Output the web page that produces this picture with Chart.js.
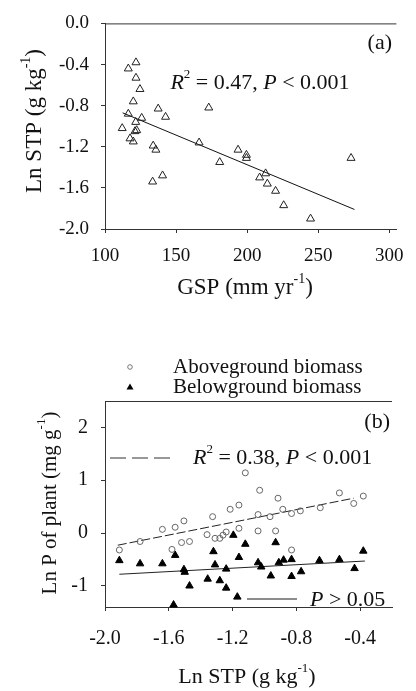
<!DOCTYPE html>
<html>
<head>
<meta charset="utf-8">
<script src="https://cdn.jsdelivr.net/npm/chart.js@4.4.1/dist/chart.umd.min.js"></script>
<style>
html, body { margin: 0; padding: 0; background: #fff; }
#wrap { position: relative; width: 416px; height: 691px; }
canvas { position: absolute; left: 0; }
#chartA { top: 0; }
#chartB { top: 340px; }
</style>
</head>
<body>
<div id="wrap">
  <canvas id="chartA" width="416" height="310"></canvas>
  <canvas id="chartB" width="416" height="351"></canvas>
</div>
<script>
// (a) growing season precipitation vs soil total P
const gsp = [112.1, 116.4, 116.4, 121.8, 121.8, 124.6, 119.9, 121.6, 122.3, 121.1, 117.6, 119.9, 125.8, 137.4, 142.6, 133.9,
             135.8, 133.5, 140.5, 166.2, 173.0, 180.7, 193.6, 199.5, 199.5, 208.8, 213.0, 214.2, 220.0, 225.7, 244.6, 273.1];
const lnStpA = [-1.02, -0.88, -0.44, -0.38, -0.53, -0.64, -0.76, -0.96, -1.04, -1.05, -1.12, -1.15, -0.92, -0.83, -0.91, -1.19,
                -1.23, -1.54, -1.48, -1.16, -0.82, -1.35, -1.23, -1.28, -1.31, -1.50, -1.46, -1.56, -1.63, -1.77, -1.90, -1.31];
const fitAx = [112.4, 275.5];
const fitAy = [-0.87, -1.81];
const xTicksA = [100, 150, 200, 250, 300];
const yTicksA = [0, -0.4, -0.8, -1.2, -1.6, -2.0];

// (b) soil total P vs plant P
const stpAbove = [-1.91, -1.78, -1.64, -1.56, -1.505, -1.58, -1.52, -1.47, -1.325, -1.36, -1.31, -1.28, -1.26, -1.24, -1.215, -1.16,
                  -1.16, -1.12, -1.03, -0.915, -1.04, -0.965, -0.885, -0.83, -0.775, -0.65, -0.53, -0.44, -0.38, -1.04, -0.93, -0.83];
const pAbove = [-0.32, -0.16, 0.07, 0.11, 0.23, -0.31, -0.18, -0.16, 0.31, -0.03, -0.10, -0.10, -0.04, 0.02, 0.45, 0.53,
                0.09, 1.14, 0.81, 0.66, 0.35, 0.31, 0.45, 0.37, 0.42, 0.48, 0.76, 0.56, 0.70, 0.04, 0.04, -0.32];
const stpBelow = [-1.91, -1.78, -1.64, -1.56, -1.505, -1.50, -1.47, -1.57, -1.32, -1.31, -1.356, -1.28, -1.24, -1.24, -1.17, -1.195,
                  -1.12, -1.16, -0.93, -1.04, -1.02, -0.91, -0.88, -0.83, -0.96, -0.83, -0.77, -0.655, -0.53, -0.435, -0.38];
const pBelow = [-0.52, -0.58, -0.58, -0.42, -0.69, -0.74, -1.00, -1.36, -0.35, -0.60, -0.87, -0.90, -0.68, -1.04, -1.21, -0.04,
                -0.21, -0.46, -0.18, -0.56, -0.64, -0.56, -0.51, -0.50, -0.81, -0.82, -0.73, -0.52, -0.50, -0.67, -0.34];
const fitAboveX = [-1.92, -0.44];
const fitAboveY = [-0.23, 0.66];
const fitBelowX = [-1.91, -0.37];
const fitBelowY = [-0.78, -0.53];
const xTicksB = [-2.0, -1.6, -1.2, -0.8, -0.4];
const yTicksB = [2, 1, 0, -1];

const FONT = '"Liberation Serif", "Times New Roman", serif';
const INK = '#111';
const AXIS = '#333';

const pts = (xs, ys) => xs.map((x, i) => ({ x: x, y: ys[i] }));

// text with italic / superscript runs
function drawRich(ctx, parts, x, y, size, align) {
  const fontFor = s => (s === 'i' ? 'italic ' : '') + (s === 'sup' ? Math.round(size * 0.6) : size) + 'px ' + FONT;
  let total = 0;
  parts.forEach(([t, s]) => { ctx.font = fontFor(s); total += ctx.measureText(t).width; });
  let cx = align === 'center' ? x - total / 2 : (align === 'right' ? x - total : x);
  ctx.textAlign = 'left';
  ctx.textBaseline = 'middle';
  ctx.fillStyle = INK;
  parts.forEach(([t, s]) => {
    ctx.font = fontFor(s);
    ctx.fillText(t, cx, s === 'sup' ? y - size * 0.38 : y);
    cx += ctx.measureText(t).width;
  });
}

function drawVertical(ctx, parts, x, y, size) {
  ctx.save();
  ctx.translate(x, y);
  ctx.rotate(-Math.PI / 2);
  drawRich(ctx, parts, 0, 0, size, 'center');
  ctx.restore();
}

function topBorder(chart) {
  const ctx = chart.ctx, a = chart.chartArea;
  ctx.save();
  ctx.strokeStyle = AXIS;
  ctx.lineWidth = 1;
  ctx.beginPath();
  ctx.moveTo(a.left, a.top + 0.5);
  ctx.lineTo(a.right, a.top + 0.5);
  ctx.stroke();
  ctx.restore();
}

function scaleOpts(min, max, tickValues, fmt, size, pad, boxSize, horizontal) {
  return {
    type: 'linear',
    min: min,
    max: max,
    afterBuildTicks: s => { s.ticks = tickValues.map(v => ({ value: v })); },
    afterFit: s => { if (horizontal) s.height = boxSize; else s.width = boxSize; },
    grid: { drawOnChartArea: false, drawTicks: true, tickLength: 4, color: AXIS },
    border: { display: true, color: AXIS, width: 1 },
    ticks: {
      padding: pad,
      color: INK,
      maxRotation: 0,
      autoSkip: false,
      font: { family: FONT, size: size },
      callback: v => fmt(v)
    }
  };
}

const baseOpts = {
  responsive: false,
  animation: false,
  events: [],
  plugins: { legend: { display: false }, tooltip: { enabled: false } }
};

// panel (a)
new Chart(document.getElementById('chartA'), {
  type: 'scatter',
  data: {
    datasets: [
      {
        data: pts(gsp, lnStpA),
        pointStyle: 'triangle',
        pointRadius: 4.6,
        borderColor: '#222',
        borderWidth: 1,
        backgroundColor: 'rgba(255,255,255,0)',
        clip: false
      },
      {
        data: pts(fitAx, fitAy),
        showLine: true,
        pointRadius: 0,
        borderColor: '#111',
        borderWidth: 1
      }
    ]
  },
  options: Object.assign({}, baseOpts, {
    layout: { padding: { top: 21, right: 19, left: 0, bottom: 0 } },
    scales: {
      x: scaleOpts(100, 305, xTicksA, v => String(v), 19, 12, 81, true),
      y: scaleOpts(-2, 0, yTicksA, v => v.toFixed(1), 19, 12, 105, false)
    }
  }),
  plugins: [{
    id: 'decorA',
    afterDraw(chart) {
      const ctx = chart.ctx;
      topBorder(chart);
      drawRich(ctx, [['(a)', '']], 392, 43, 22, 'right');
      drawRich(ctx, [['R', 'i'], ['2', 'sup'], [' = 0.47, ', ''], ['P', 'i'], [' < 0.001', '']], 260, 83, 22, 'center');
      drawRich(ctx, [['GSP (mm yr', ''], ['-1', 'sup'], [')', '']], 245, 288, 23, 'center');
      drawVertical(ctx, [['Ln STP (g kg', ''], ['-1', 'sup'], [')', '']], 35, 121, 23);
    }
  }]
});

// panel (b)
new Chart(document.getElementById('chartB'), {
  type: 'scatter',
  data: {
    datasets: [
      {
        data: pts(stpAbove, pAbove),
        pointStyle: 'circle',
        pointRadius: 3,
        borderColor: '#666',
        borderWidth: 1,
        backgroundColor: 'rgba(255,255,255,0)',
        clip: false
      },
      {
        data: pts(stpBelow, pBelow),
        pointStyle: 'triangle',
        pointRadius: 4.3,
        borderColor: '#000',
        borderWidth: 1,
        backgroundColor: '#000',
        clip: false
      },
      {
        data: pts(fitAboveX, fitAboveY),
        showLine: true,
        pointRadius: 0,
        borderColor: '#222',
        borderWidth: 1,
        borderDash: [9, 3]
      },
      {
        data: pts(fitBelowX, fitBelowY),
        showLine: true,
        pointRadius: 0,
        borderColor: '#222',
        borderWidth: 1
      }
    ]
  },
  options: Object.assign({}, baseOpts, {
    layout: { padding: { top: 61, right: 24, left: 0, bottom: 0 } },
    scales: {
      x: scaleOpts(-2.0, -0.2, xTicksB, v => v.toFixed(1), 20, 16, 84, true),
      y: scaleOpts(-1.4, 2.5, yTicksB, v => String(v), 20, 13, 105, false)
    }
  }),
  plugins: [{
    id: 'decorB',
    afterDraw(chart) {
      const ctx = chart.ctx;
      topBorder(chart);

      // legend
      ctx.save();
      ctx.strokeStyle = '#777';
      ctx.lineWidth = 1;
      ctx.beginPath();
      ctx.arc(130, 27, 2.3, 0, Math.PI * 2);
      ctx.stroke();
      ctx.fillStyle = '#000';
      ctx.beginPath();
      ctx.moveTo(130, 43.5);
      ctx.lineTo(133.5, 49.5);
      ctx.lineTo(126.5, 49.5);
      ctx.closePath();
      ctx.fill();
      ctx.restore();
      drawRich(ctx, [['Aboveground biomass', '']], 173, 27, 21, 'left');
      drawRich(ctx, [['Belowground biomass', '']], 173, 47, 21, 'left');

      drawRich(ctx, [['(b)', '']], 390, 82, 22, 'right');

      // fit keys
      ctx.save();
      ctx.strokeStyle = '#777';
      ctx.lineWidth = 1.5;
      ctx.setLineDash([16, 6]);
      ctx.beginPath();
      ctx.moveTo(110, 118);
      ctx.lineTo(172, 118);
      ctx.stroke();
      ctx.setLineDash([]);
      ctx.strokeStyle = '#666';
      ctx.beginPath();
      ctx.moveTo(247, 259);
      ctx.lineTo(297, 259);
      ctx.stroke();
      ctx.restore();
      drawRich(ctx, [['R', 'i'], ['2', 'sup'], [' = 0.38, ', ''], ['P', 'i'], [' < 0.001', '']], 193, 118, 22, 'left');
      drawRich(ctx, [['P', 'i'], [' > 0.05', '']], 310, 260, 22, 'left');

      drawRich(ctx, [['Ln STP (g kg', ''], ['-1', 'sup'], [')', '']], 247, 337, 22, 'center');
      drawVertical(ctx, [['Ln P of plant (mg g', ''], ['-1', 'sup'], [')', '']], 50, 163, 21);
    }
  }]
});
</script>
</body>
</html>
